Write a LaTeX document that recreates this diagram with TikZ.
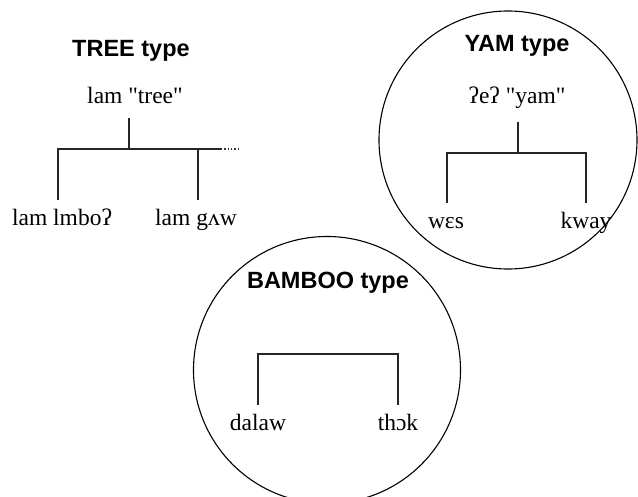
\documentclass[tikz,border=0pt]{standalone}
\usepackage{fontspec}
\setmainfont{Liberation Serif}
\setsansfont{Liberation Sans}
\begin{document}
\begin{tikzpicture}[x=1pt,y=-1pt,
  lbl/.style={font=\fontsize{23.5}{28}\selectfont, inner sep=0pt, anchor=base},
  ttl/.style={font=\sffamily\bfseries\fontsize{23.5}{28}\selectfont, inner sep=0pt, anchor=base},
  br/.style={line width=1.2pt, black!85},
  ring/.style={circle, draw, line width=1.1pt, inner sep=0pt},
  dots/.style={line width=1.2pt, black!80, dash pattern=on 1.3pt off 2pt}]
\useasboundingbox (0,0) rectangle (638,497);
% circles
\node[ring, minimum size=258pt] (yamring) at (508,140) {};
\node[ring, minimum size=267pt] (bambooring) at (327,370) {};
% TREE type
\node[ttl] (treet) at (131,57) {TREE type};
\node[lbl] (lamtree) at (135,104) {lam \textquotedbl tree\textquotedbl};
\node[lbl] (lmbo) at (62,226) {lam lmboʔ};
\node[lbl] (gaw) at (196,226) {lam gʌw};
\coordinate (t0) at (129,118);
\coordinate (t1) at (129,149);
\coordinate (tl) at (58,149);
\coordinate (tr) at (198,149);
\coordinate (tl2) at (58,200);
\coordinate (tr2) at (198,200);
\coordinate (te) at (221,149);
\coordinate (td) at (238,149);
\draw[br] (t0) -- (t1);
\draw[br] (tl2) -- (tl) -- (te);
\draw[br] (tr) -- (tr2);
\draw[dots] (te) -- (td);
% YAM type
\node[ttl] (yamt) at (517,52) {YAM type};
\node[lbl] (ee) at (517,104) {ʔeʔ \textquotedbl yam\textquotedbl};
\node[lbl] (wes) at (446,229) {wɛs};
\node[lbl] (kway) at (586,229) {kway};
\coordinate (y0) at (518,122);
\coordinate (y1) at (518,153);
\coordinate (yl) at (447,153);
\coordinate (yr) at (586,153);
\coordinate (yl2) at (447,203);
\coordinate (yr2) at (586,203);
\draw[br] (y0) -- (y1);
\draw[br] (yl2) -- (yl) -- (yr) -- (yr2);
% BAMBOO type
\node[ttl] (bamt) at (328,289) {BAMBOO type};
\node[lbl] (dalaw) at (258,431) {dalaw};
\node[lbl] (thok) at (398,431) {thɔk};
\coordinate (bl) at (258,354);
\coordinate (brr) at (398,354);
\coordinate (bl2) at (258,405);
\coordinate (br2) at (398,405);
\draw[br] (bl2) -- (bl) -- (brr) -- (br2);
\end{tikzpicture}
\end{document}
